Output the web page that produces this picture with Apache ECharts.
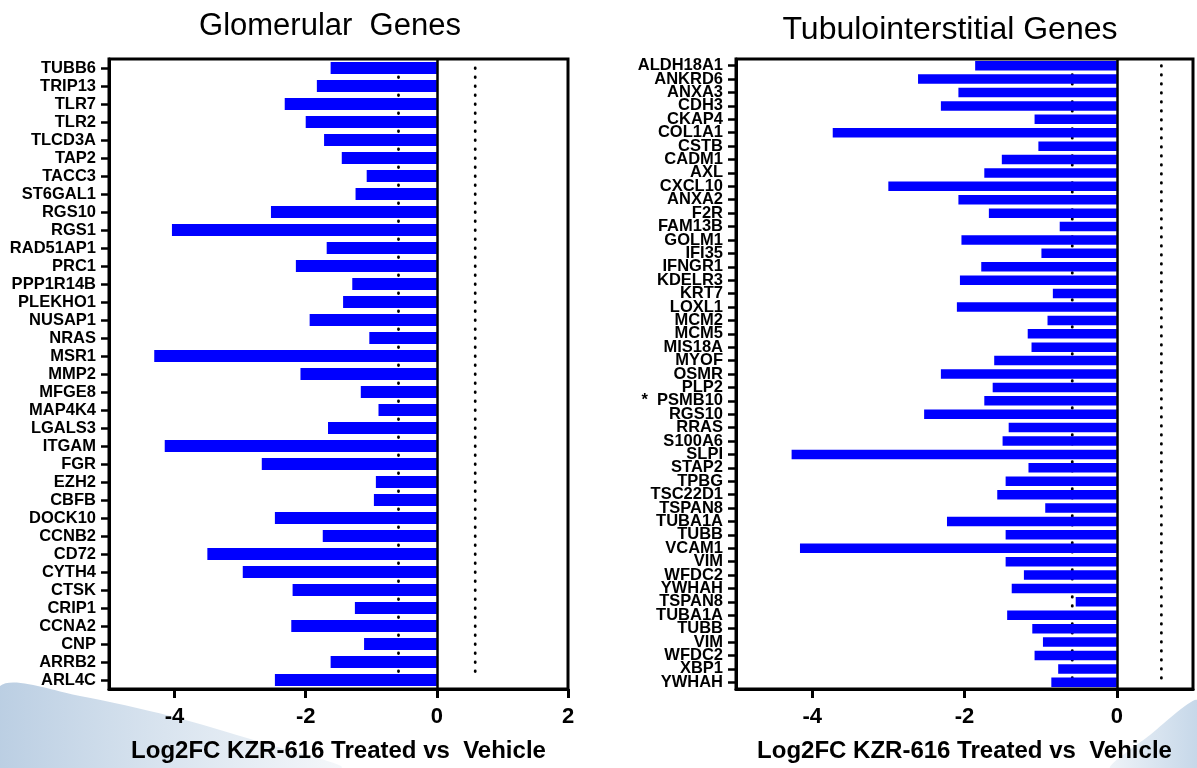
<!DOCTYPE html>
<html>
<head>
<meta charset="utf-8">
<script src="https://cdn.jsdelivr.net/npm/echarts@6/dist/echarts.min.js"></script>
<style>
  html, body { margin: 0; padding: 0; background: #fff; }
  #main { width: 1197px; height: 768px; }
</style>
</head>
<body>
<div id="main"></div>
<script>
// glomerular genes, top to bottom
const glomGenes = ['TUBB6','TRIP13','TLR7','TLR2','TLCD3A','TAP2','TACC3','ST6GAL1','RGS10','RGS1',
  'RAD51AP1','PRC1','PPP1R14B','PLEKHO1','NUSAP1','NRAS','MSR1','MMP2','MFGE8','MAP4K4',
  'LGALS3','ITGAM','FGR','EZH2','CBFB','DOCK10','CCNB2','CD72','CYTH4','CTSK',
  'CRIP1','CCNA2','CNP','ARRB2','ARL4C'];
const glomFC = [-1.62,-1.83,-2.32,-2.0,-1.72,-1.45,-1.07,-1.24,-2.53,-4.04,
  -1.68,-2.15,-1.29,-1.43,-1.94,-1.03,-4.31,-2.08,-1.16,-0.89,
  -1.66,-4.15,-2.67,-0.93,-0.96,-2.47,-1.74,-3.50,-2.96,-2.20,
  -1.25,-2.22,-1.11,-1.62,-2.47];

// tubulointerstitial genes, top to bottom
const tubGenes = ['ALDH18A1','ANKRD6','ANXA3','CDH3','CKAP4','COL1A1','CSTB','CADM1','AXL','CXCL10',
  'ANXA2','F2R','FAM13B','GOLM1','IFI35','IFNGR1','KDELR3','KRT7','LOXL1','MCM2',
  'MCM5','MIS18A','MYOF','OSMR','PLP2','*  PSMB10','RGS10','RRAS','S100A6','SLPI',
  'STAP2','TPBG','TSC22D1','TSPAN8','TUBA1A','TUBB','VCAM1','VIM','WFDC2','YWHAH',
  'TSPAN8','TUBA1A','TUBB','VIM','WFDC2','XBP1','YWHAH'];
const tubFC = [-1.86,-2.61,-2.08,-2.31,-1.08,-3.73,-1.03,-1.51,-1.74,-3.0,
  -2.08,-1.68,-0.75,-2.04,-0.99,-1.78,-2.06,-0.84,-2.10,-0.91,
  -1.17,-1.12,-1.61,-2.31,-1.63,-1.74,-2.53,-1.42,-1.50,-4.27,
  -1.16,-1.46,-1.57,-0.94,-2.23,-1.46,-4.16,-1.46,-1.22,-1.38,
  -0.54,-1.44,-1.11,-0.97,-1.08,-0.77,-0.86];

const leftTicks = [-4, -2, 0, 2];
const rightTicks = [-4, -2, 0];
const cutoff = 0.585; // log2(1.5)

const font = '"Liberation Sans", Arial, Helvetica, sans-serif';
const xName = 'Log2FC KZR-616 Treated vs  Vehicle';

function xAxisFor(gridIndex, min, max, ticks){
    return {
        type: 'value',
        gridIndex: gridIndex,
        min: min,
        max: max,
        name: xName,
        nameLocation: 'middle',
        nameGap: 50,
        nameTextStyle: { color: '#000', fontFamily: font, fontWeight: 'bold', fontSize: 24 },
        splitLine: { show: false },
        axisLine: { show: true, onZero: false, lineStyle: { color: '#000', width: 3 } },
        axisTick: { show: true, customValues: ticks, length: 9, lineStyle: { color: '#000', width: 3 } },
        axisLabel: { customValues: ticks, margin: 17, color: '#000', fontFamily: font, fontWeight: 'bold', fontSize: 22 }
    };
}

function yAxisFor(gridIndex, names){
    return {
        type: 'category',
        gridIndex: gridIndex,
        data: names,
        inverse: true,
        axisLine: { show: true, onZero: false, lineStyle: { color: '#000', width: 3 } },
        axisTick: { show: true, alignWithLabel: true, length: 8, lineStyle: { color: '#000', width: 2.5 } },
        axisLabel: { interval: 0, margin: 13, color: '#000', fontFamily: font, fontWeight: 'bold', fontSize: 16.5, lineHeight: 14 }
    };
}

// dotted cutoff line, centre of first row to centre of last row
function dotted(idx, names, x){
    return {
        type: 'line',
        xAxisIndex: idx,
        yAxisIndex: idx,
        data: [[x, 0], [x, names.length - 1]],
        showSymbol: false,
        silent: true,
        z: 1,
        lineStyle: { color: '#000', width: 2.8, type: [0.5, 8.5], cap: 'round' }
    };
}

function bars(idx, values, w){
    return {
        type: 'bar',
        xAxisIndex: idx,
        yAxisIndex: idx,
        data: values,
        barWidth: w,
        z: 2,
        itemStyle: { color: '#0000ff' },
        markLine: {
            silent: true,
            symbol: 'none',
            label: { show: false },
            lineStyle: { color: '#000', type: 'solid', width: 2.5 },
            data: [{ xAxis: 0 }]
        }
    };
}

let chart = echarts.init(document.getElementById('main'));
let option = {
    backgroundColor: '#fff',
    animation: false,
    title: [
        { text: 'Glomerular  Genes', left: 325, top: 6, textAlign: 'center',
          textStyle: { fontFamily: font, fontWeight: 'normal', fontSize: 31, color: '#000' } },
        { text: 'Tubulointerstitial Genes', left: 945, top: 9, textAlign: 'center',
          textStyle: { fontFamily: font, fontWeight: 'normal', fontSize: 32, color: '#000' } }
    ],
    graphic: [
        {
            type: 'polygon', z: -10, silent: true,
            shape: { points: [[0, 686], [80, 696], [170, 716], [260, 742], [340, 768], [0, 768]], smooth: 0.3 },
            style: { fill: new echarts.graphic.LinearGradient(0, 0, 1, 0, [
                { offset: 0, color: '#b9cde2' }, { offset: 0.5, color: '#d9e4ef' }, { offset: 1, color: '#f4f7fa' }]) }
        },
        {
            type: 'polygon', z: -10, silent: true,
            shape: { points: [[1110, 768], [1150, 735], [1197, 700], [1197, 768]], smooth: 0.2 },
            style: { fill: new echarts.graphic.LinearGradient(0, 0, 1, 0, [
                { offset: 0, color: '#eef3f8' }, { offset: 1, color: '#c4d6e8' }]) }
        }
    ],
    grid: [
        { left: 109, right: 629, top: 59, bottom: 77, show: true, borderColor: '#000', borderWidth: 3, backgroundColor: 'rgba(0,0,0,0)' },
        { left: 736, right: 4, top: 59, bottom: 77, show: true, borderColor: '#000', borderWidth: 3, backgroundColor: 'rgba(0,0,0,0)' }
    ],
    xAxis: [
        xAxisFor(0, -5, 2, leftTicks),
        xAxisFor(1, -5, 1, rightTicks)
    ],
    yAxis: [
        yAxisFor(0, glomGenes),
        yAxisFor(1, tubGenes)
    ],
    series: [
        dotted(0, glomGenes, cutoff),
        dotted(0, glomGenes, -cutoff),
        bars(0, glomFC, 12),
        dotted(1, tubGenes, cutoff),
        dotted(1, tubGenes, -cutoff),
        bars(1, tubFC, 9.5)
    ]
};
chart.setOption(option);
</script>
</body>
</html>
